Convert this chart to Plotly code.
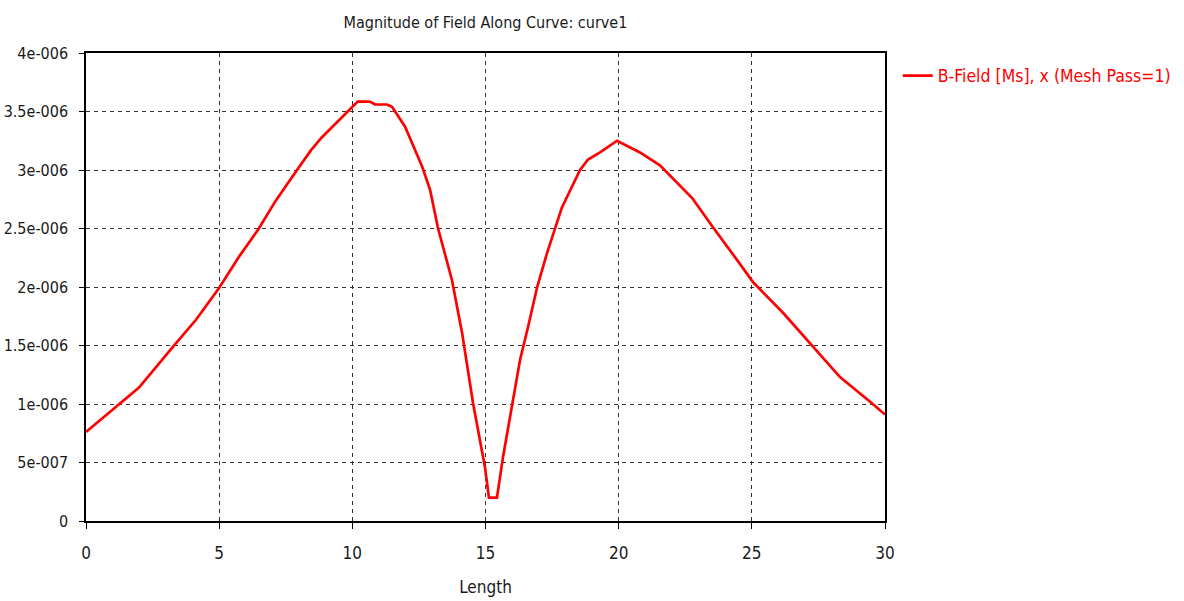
import plotly.graph_objects as go

length = [0, 1.24, 1.99, 3.27, 4.13, 4.99, 5.75, 6.46, 7.13, 7.89, 8.45, 8.86, 9.4, 9.85,
          10.03, 10.2, 10.66, 10.85, 11.3, 11.49, 11.98, 12.28, 12.62, 12.92, 13.22, 13.74,
          14.12, 14.53, 14.98, 15.13, 15.43, 15.66, 16.0, 16.30, 16.60, 16.94, 17.31, 17.87,
          18.55, 18.85, 19.30, 19.94, 20.80, 21.55, 22.76, 23.54, 24.45, 25.05, 26.17, 27.26,
          28.31, 29.44, 30]
field_e6 = [0.76, 1.0, 1.14, 1.49, 1.72, 1.99, 2.26, 2.49, 2.74, 2.99, 3.17, 3.28, 3.40, 3.50,
            3.54, 3.585, 3.585, 3.56, 3.56, 3.54, 3.37, 3.21, 3.03, 2.83, 2.50, 2.06,
            1.61, 1.01, 0.46, 0.20, 0.20, 0.55, 1.01, 1.38, 1.66, 2.0, 2.29, 2.68,
            3.0, 3.09, 3.15, 3.25, 3.15, 3.04, 2.76, 2.51, 2.23, 2.04, 1.78, 1.50,
            1.23, 1.02, 0.91]
field = [v * 1e-6 for v in field_e6]

y_tickvals = [0, 0.5e-6, 1e-6, 1.5e-6, 2e-6, 2.5e-6, 3e-6, 3.5e-6, 4e-6]
y_ticktext = ["0", "5e-007", "1e-006", "1.5e-006", "2e-006", "2.5e-006", "3e-006", "3.5e-006", "4e-006"]
x_tickvals = [0, 5, 10, 15, 20, 25, 30]

FONT = "DejaVu Sans Condensed"
TXT = "#1a1a1a"

fig = go.Figure()
fig.add_trace(go.Scatter(x=length, y=field, mode="lines",
                         name="B-Field [Ms], x (Mesh Pass=1)",
                         line=dict(color="#ff0000", width=2.7)))

fig.update_layout(
    width=1184, height=601,
    margin=dict(l=86, r=299, t=53, b=80, autoexpand=False),
    paper_bgcolor="white", plot_bgcolor="white",
    title=dict(text="Magnitude of Field Along Curve: curve1", x=0.41,
               xanchor="center", y=1 - 22 / 601, yanchor="middle",
               font=dict(family=FONT, size=16, color=TXT)),
    showlegend=True,
    legend=dict(x=1.016, y=0.99, xanchor="left", yanchor="top",
                font=dict(family=FONT, size=17.5, color="#ff0000"),
                bgcolor="rgba(0,0,0,0)"),
    font=dict(family=FONT, size=16, color=TXT),
)
fig.update_xaxes(range=[0, 30], tickvals=x_tickvals, showgrid=True, automargin=False,
                 gridcolor="#333333", griddash="4px,4px", gridwidth=1,
                 showline=True, linecolor="black", linewidth=1.5, mirror=True,
                 ticks="outside", ticklen=6, tickcolor="black",
                 ticklabelstandoff=10,
                 zeroline=False,
                 title=dict(text="Length", standoff=19,
                            font=dict(family=FONT, size=17, color=TXT)),
                 tickfont=dict(family=FONT, size=17, color=TXT))
fig.update_yaxes(range=[0, 4e-6], tickvals=y_tickvals, ticktext=y_ticktext, showgrid=True,
                 automargin=False,
                 gridcolor="#333333", griddash="4px,4px", gridwidth=1,
                 showline=True, linecolor="black", linewidth=1.5, mirror=True,
                 ticks="outside", ticklen=5, tickcolor="black",
                 ticklabelstandoff=8,
                 zeroline=False,
                 tickfont=dict(family=FONT, size=16, color=TXT))

fig.write_html("out.html")
